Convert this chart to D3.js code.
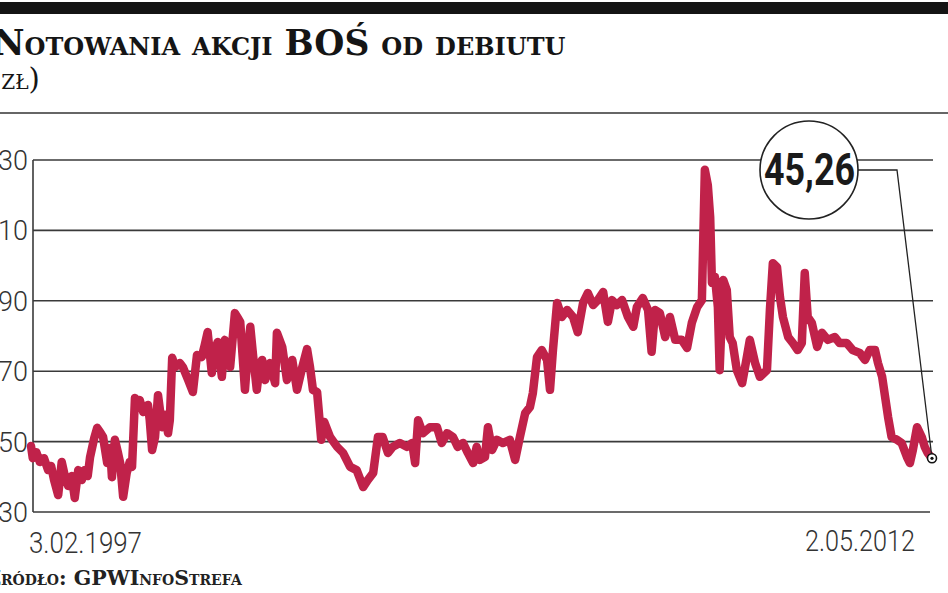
<!DOCTYPE html>
<html>
<head>
<meta charset="utf-8">
<script src="https://cdn.jsdelivr.net/npm/d3@7/dist/d3.min.js"></script>
<style>
  html, body { margin: 0; padding: 0; background: #fff; overflow: hidden; }
  svg { display: block; }
</style>
</head>
<body>
<svg id="chart" width="948" height="593"></svg>
<script>
// ---- data ----
const titleText = "Notowania akcji BOŚ od debiutu";
const unitText = "(zł)";
const sourceText = "Źródło: GPWInfoStrefa";
const dateLabels = ["3.02.1997", "2.05.2012"];
const lastValueLabel = "45,26";
const yTicks = [30, 50, 70, 90, 110, 130];

// time as decimal years
const yearFrac = [
 1997.09,1997.12,1997.18,1997.24,1997.31,1997.38,1997.43,1997.48,1997.55,1997.61,
 1997.67,1997.72,1997.78,1997.83,1997.89,1997.95,1998.00,1998.05,1998.09,1998.16,
 1998.21,1998.26,1998.31,1998.38,1998.43,1998.46,1998.51,1998.56,1998.60,1998.65,
 1998.71,1998.76,1998.80,1998.85,1998.90,1998.93,1998.99,1999.02,1999.07,1999.10,
 1999.14,1999.19,1999.24,1999.31,1999.36,1999.41,1999.44,1999.48,1999.53,1999.61,
 1999.66,1999.75,1999.83,1999.90,1999.98,2000.03,2000.08,2000.15,2000.20,2000.25,
 2000.32,2000.37,2000.42,2000.46,2000.54,2000.59,2000.63,2000.71,2000.76,2000.80,
 2000.85,2000.91,2000.96,2001.00,2001.05,2001.13,2001.22,2001.25,2001.34,2001.42,
 2001.51,2001.59,2001.68,2001.76,2001.81,2001.86,2001.93,2001.96,2002.00,2002.05,
 2002.15,2002.27,2002.37,2002.49,2002.60,2002.71,2002.79,2002.88,2002.96,2003.04,
 2003.13,2003.21,2003.33,2003.45,2003.54,2003.59,2003.64,2003.72,2003.84,2003.96,
 2004.04,2004.13,2004.23,2004.31,2004.40,2004.48,2004.57,2004.63,2004.68,2004.77,
 2004.82,2004.89,2004.97,2005.07,2005.19,2005.28,2005.36,2005.45,2005.53,2005.58,
 2005.65,2005.73,2005.82,2005.87,2005.92,2005.99,2006.07,2006.16,2006.26,2006.34,
 2006.43,2006.51,2006.60,2006.68,2006.77,2006.85,2006.92,2007.00,2007.09,2007.19,
 2007.28,2007.34,2007.44,2007.53,2007.59,2007.65,2007.73,2007.82,2007.90,2007.99,
 2008.10,2008.19,2008.27,2008.36,2008.44,2008.49,2008.54,2008.58,2008.61,2008.66,
 2008.71,2008.74,2008.80,2008.86,2008.91,2008.96,2009.03,2009.12,2009.20,2009.25,
 2009.34,2009.42,2009.54,2009.59,2009.64,2009.71,2009.76,2009.81,2009.90,2009.98,
 2010.06,2010.13,2010.18,2010.23,2010.30,2010.39,2010.47,2010.57,2010.69,2010.77,
 2010.89,2010.99,2011.11,2011.20,2011.28,2011.37,2011.42,2011.49,2011.54,2011.59,
 2011.65,2011.74,2011.82,2011.91,2011.96,2012.01,2012.08,2012.16,2012.21,2012.26,
 2012.333
];
// closing price, zł
const price = [
 48.75,45.3,47.0,44.2,45.3,41.9,43.1,39.1,34.8,44.2,
 39.7,37.4,40.2,34.0,41.9,39.1,41.9,40.2,45.6,51.0,
 53.9,52.7,51.3,43.9,48.2,39.9,50.5,47.0,43.9,34.3,
 41.1,44.2,42.8,62.4,60.7,61.8,58.4,59.8,60.4,56.1,
 47.6,51.3,63.2,54.1,57.6,52.4,56.1,73.8,71.2,72.3,
 71.2,67.5,64.1,74.6,74.0,77.4,81.1,69.5,76.0,78.3,
 68.4,78.9,76.0,71.2,86.5,85.1,84.0,64.7,76.0,82.6,
 74.0,64.7,71.8,73.2,67.5,72.3,66.6,80.9,76.9,67.5,
 73.2,64.7,71.2,76.3,71.2,64.7,64.1,58.4,50.5,55.6,
 51.3,48.5,46.8,42.8,41.9,37.1,39.1,41.1,51.3,51.3,
 46.8,48.5,49.6,48.5,49.6,43.9,56.1,52.4,54.1,54.1,
 49.6,52.4,51.3,48.5,49.6,46.8,43.9,48.5,44.8,45.6,
 54.1,47.6,50.5,49.6,50.5,44.8,51.3,58.1,59.8,63.8,
 74.0,76.0,73.2,64.7,76.0,89.4,85.4,87.4,85.4,81.1,
 89.4,92.2,88.8,90.2,92.5,84.0,90.2,88.8,90.2,85.4,
 82.6,88.2,90.8,87.4,75.5,87.4,86.5,79.7,85.4,78.9,
 78.9,76.6,83.7,88.2,90.2,127.2,122.9,113.8,95.1,96.8,
 88.2,70.3,95.9,93.1,79.7,78.0,70.3,66.6,74.0,78.9,
 72.3,68.4,70.3,87.4,100.7,99.6,91.1,85.4,79.7,78.0,
 76.0,78.0,97.9,85.4,83.7,76.9,80.9,78.9,79.7,78.0,
 78.0,76.0,75.2,73.2,76.0,76.0,72.3,68.4,62.7,57.0,
 51.3,50.5,49.6,45.6,43.9,47.6,54.1,51.3,48.5,46.8,
 45.26
];

// ---- helpers ----
function toDate(f) {
  const y = Math.floor(f);
  const a = new Date(y, 0, 1), b = new Date(y + 1, 0, 1);
  return new Date(+a + (f - y) * (b - a));
}
const n = Math.min(yearFrac.length, price.length);
const data = d3.range(n).map(i => ({ date: toDate(yearFrac[i]), value: price[i] }));

const svg = d3.select("#chart");
const W = 948;

// header
svg.append("rect").attr("x", 0).attr("y", 2).attr("width", W).attr("height", 12).attr("fill", "#141414");
svg.append("text")
  .attr("x", -7).attr("y", 55)
  .attr("font-family", "'DejaVu Serif', serif")
  .attr("font-weight", "bold")
  .attr("font-size", 34.5)
  .style("font-variant", "small-caps")
  .attr("fill", "#151515")
  .text(titleText);
svg.append("text")
  .attr("x", -10).attr("y", 89)
  .attr("font-family", "'DejaVu Serif', serif")
  .attr("font-size", 29)
  .style("font-variant", "small-caps")
  .attr("fill", "#151515")
  .text(unitText);
svg.append("line").attr("x1", 0).attr("x2", W).attr("y1", 113).attr("y2", 113)
  .attr("stroke", "#666").attr("stroke-width", 2);

// scales
const x = d3.scaleTime()
  .domain(d3.extent(data, d => d.date))
  .range([31, 932]);
const y = d3.scaleLinear().domain([30, 130]).range([512, 160]);

// grid
const g = svg.append("g");
g.selectAll("line.grid").data(yTicks).join("line")
  .attr("class", "grid")
  .attr("x1", 33).attr("x2", d => d === 30 ? 930 : 933)
  .attr("y1", d => y(d)).attr("y2", d => y(d))
  .attr("stroke", "#3a3a3a").attr("stroke-width", 1.6);
g.append("line")
  .attr("x1", 33).attr("x2", 33).attr("y1", y(130)).attr("y2", y(30))
  .attr("stroke", "#3a3a3a").attr("stroke-width", 1.6);

// y labels
g.selectAll("text.ylab").data(yTicks).join("text")
  .attr("class", "ylab")
  .attr("x", 28).attr("y", d => y(d) + 10)
  .attr("text-anchor", "end")
  .attr("font-family", "Roboto, sans-serif")
  .attr("font-weight", 300)
  .attr("font-size", 27)
  .attr("fill", "#333")
  .text(d => d);

// date labels
svg.append("text").attr("x", 29).attr("y", 553)
  .attr("font-family", "Roboto, sans-serif")
  .attr("font-weight", 300)
  .attr("font-size", 29).attr("fill", "#333")
  .attr("textLength", 113).attr("lengthAdjust", "spacingAndGlyphs")
  .text(dateLabels[0]);
svg.append("text").attr("x", 805).attr("y", 551)
  .attr("font-family", "Roboto, sans-serif")
  .attr("font-weight", 300)
  .attr("font-size", 29).attr("fill", "#333")
  .attr("textLength", 110).attr("lengthAdjust", "spacingAndGlyphs")
  .text(dateLabels[1]);

// price line
const line = d3.line().x(d => x(d.date)).y(d => y(d.value)).curve(d3.curveLinear);
svg.append("path").datum(data)
  .attr("d", line)
  .attr("fill", "none")
  .attr("stroke", "#c0224a")
  .attr("stroke-width", 8.5)
  .attr("stroke-linejoin", "round")
  .attr("stroke-linecap", "round");

// callout
const last = data[data.length - 1];
const lx = x(last.date), ly = y(last.value);
const cx = 809, cy = 170, r = 49;
svg.append("polyline")
  .attr("points", [[cx + r, cy], [897, cy], [lx, ly]].map(p => p.join(",")).join(" "))
  .attr("fill", "none").attr("stroke", "#222").attr("stroke-width", 1.3);
svg.append("circle").attr("cx", cx).attr("cy", cy).attr("r", r)
  .attr("fill", "#fff").attr("stroke", "#222").attr("stroke-width", 1.6);
svg.append("text").attr("x", cx - 45).attr("y", cy + 15)
  .attr("font-family", "Roboto, sans-serif")
  .attr("font-weight", "bold")
  .attr("font-size", 45)
  .attr("fill", "#1a1a1a")
  .attr("textLength", 91).attr("lengthAdjust", "spacingAndGlyphs")
  .text(lastValueLabel);
svg.append("circle").attr("cx", lx).attr("cy", ly).attr("r", 4.5)
  .attr("fill", "#fff").attr("stroke", "#111").attr("stroke-width", 1.6);
svg.append("circle").attr("cx", lx).attr("cy", ly).attr("r", 1.6).attr("fill", "#111");

// source
svg.append("text").attr("x", -14).attr("y", 585)
  .attr("font-family", "'DejaVu Serif', serif")
  .attr("font-weight", "bold")
  .attr("font-size", 20.5)
  .style("font-variant", "small-caps")
  .attr("fill", "#222")
  .text(sourceText);
</script>
</body>
</html>
